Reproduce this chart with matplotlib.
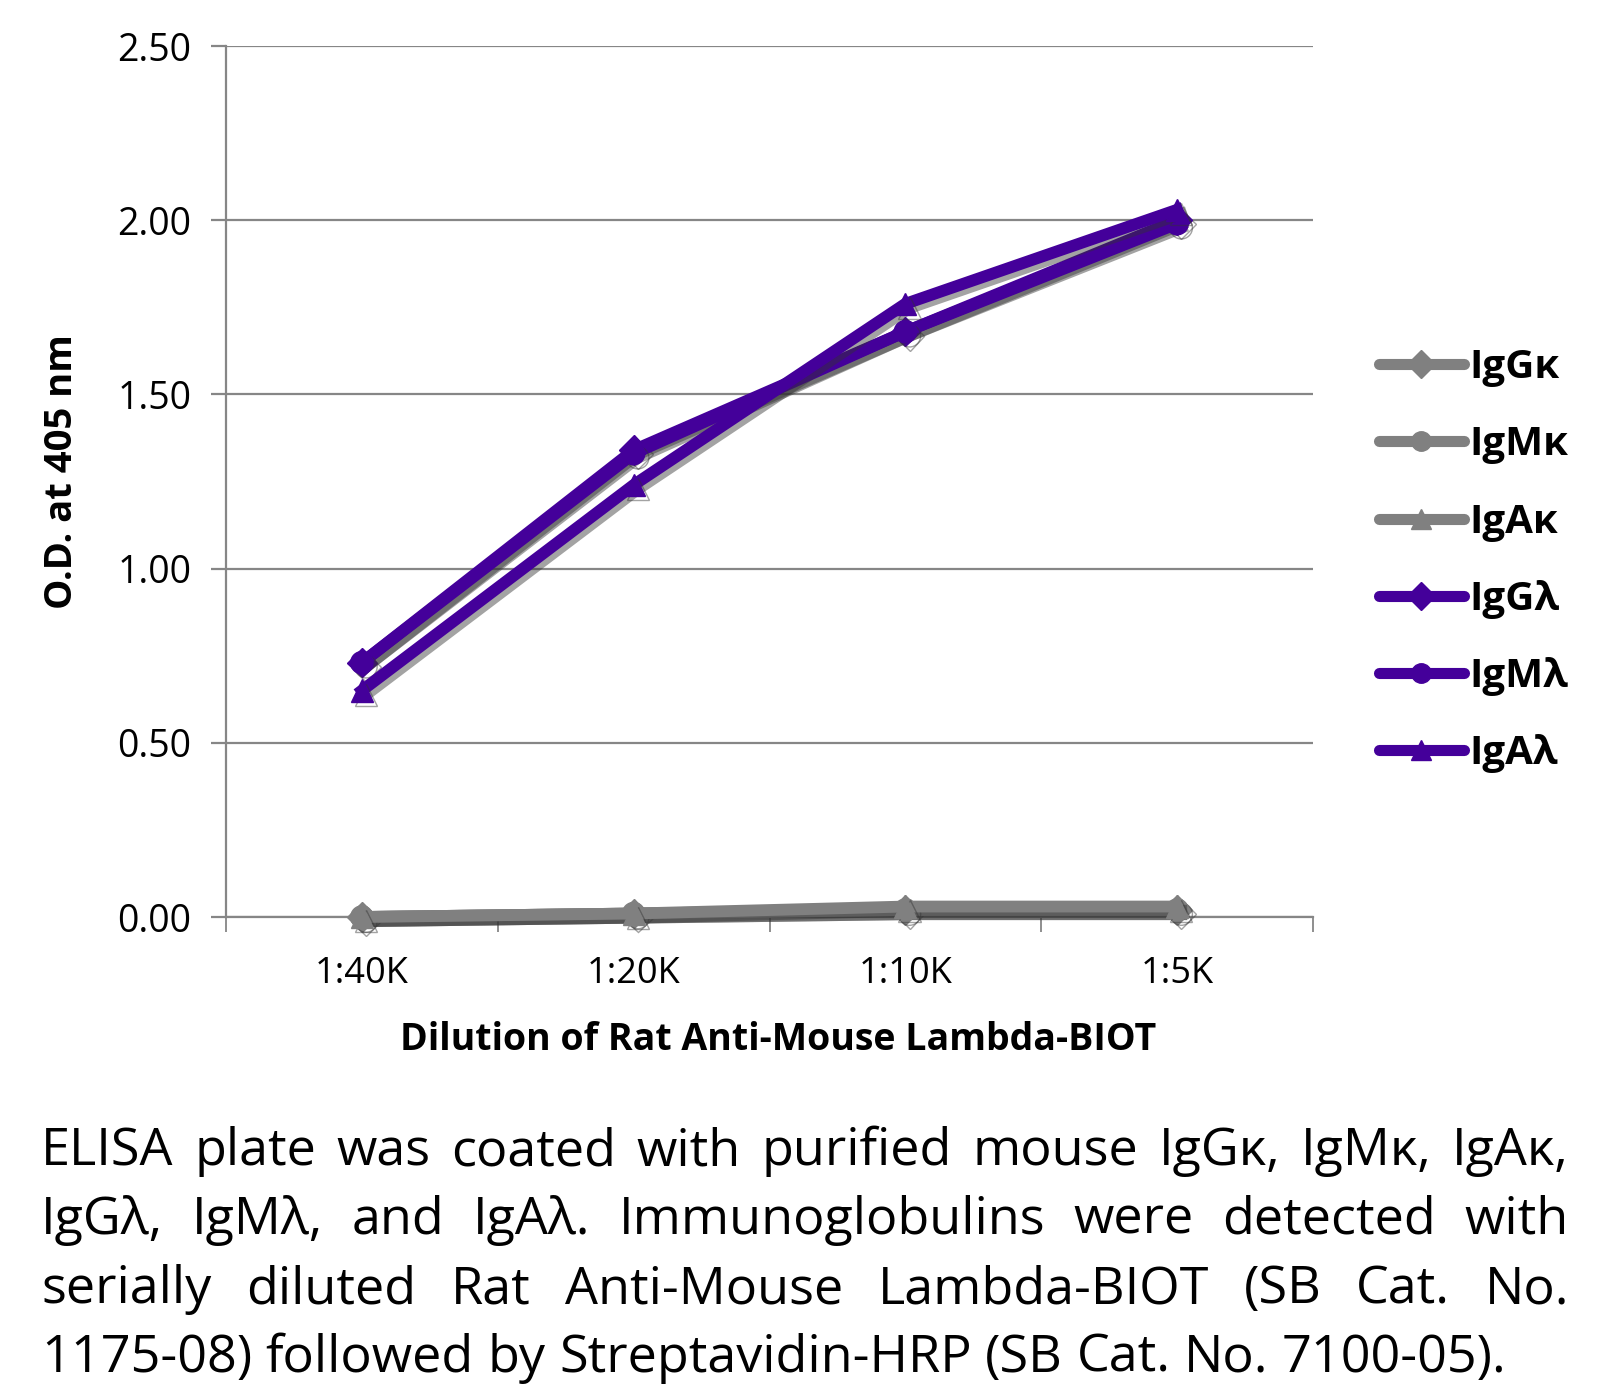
import matplotlib
matplotlib.use("Agg")
import matplotlib.pyplot as plt
import matplotlib.patheffects as pe
from matplotlib.lines import Line2D

# dilutions and O.D. readings
dilutions = ["1:40K", "1:20K", "1:10K", "1:5K"]
igg_k = [0.00, 0.01, 0.02, 0.02]
igm_k = [0.00, 0.01, 0.02, 0.02]
iga_k = [0.00, 0.01, 0.03, 0.03]
igg_l = [0.73, 1.34, 1.68, 2.00]
igm_l = [0.73, 1.33, 1.68, 1.99]
iga_l = [0.65, 1.24, 1.76, 2.03]

names = ["IgG\u03ba", "IgM\u03ba", "IgA\u03ba", "IgG\u03bb", "IgM\u03bb", "IgA\u03bb"]
series = [igg_k, igm_k, iga_k, igg_l, igm_l, iga_l]
markers = ["D", "o", "^", "D", "o", "^"]
gray = "#808080"
purple = "#44009a"
colors = [gray, gray, gray, purple, purple, purple]

yticks = [0.0, 0.5, 1.0, 1.5, 2.0, 2.5]

caption = [
    "ELISA plate was coated with purified mouse IgG\u03ba, IgM\u03ba, IgA\u03ba,",
    "IgG\u03bb, IgM\u03bb, and IgA\u03bb.  Immunoglobulins were detected with",
    "serially diluted Rat Anti-Mouse Lambda-BIOT (SB Cat. No.",
    "1175-08) followed by Streptavidin-HRP (SB Cat. No. 7100-05).",
]

plt.rcParams['font.family'] = ['Open Sans', 'DejaVu Sans']

fig = plt.figure(figsize=(16.05, 13.9), dpi=100)
ax = fig.add_axes([226/1605, 1-917/1390, (1313-226)/1605, (917-46)/1390])

x = list(range(len(dilutions)))
shadow = [pe.SimpleLineShadow(offset=(3, -3), shadow_color="#333333", alpha=0.45), pe.Normal()]
for vals, m, c, n in zip(series, markers, colors, names):
    ms = 15 if m == "D" else 16
    ax.plot(x, vals, color=c, marker=m, markersize=ms, lw=8.5, label=n,
            solid_joinstyle="round", path_effects=shadow, zorder=3, clip_on=False)

ax.set_ylim(0, 2.5)
ax.set_xlim(-0.5, 3.5)
ax.set_yticks(yticks)
ax.set_yticklabels([f"{v:.2f}" for v in yticks], fontsize=27)
ax.grid(axis="y", color="#868686", lw=1.6, zorder=1)
ax.tick_params(axis="y", length=11, width=1.6, color="#868686", pad=14)

ax.set_xticks([-0.5, 0.5, 1.5, 2.5, 3.5])
ax.set_xticklabels([])
ax.tick_params(axis="x", which="major", length=11, width=1.3, color="#868686")
ax.set_xticks(x, minor=True)
ax.set_xticklabels(dilutions, minor=True, fontsize=26)
ax.tick_params(axis="x", which="minor", length=0, pad=28)

for s in ["top", "right"]:
    ax.spines[s].set_visible(False)
for s in ["left", "bottom"]:
    ax.spines[s].set_color("#868686")
    ax.spines[s].set_linewidth(1.6)

fig.text(62/1605, 1-472/1390, "O.D. at 405 nm", rotation=90, fontsize=27.5,
         fontweight="bold", ha="center", va="center")
fig.text(778/1605, 1-1040/1390, "Dilution of Rat Anti-Mouse Lambda-BIOT", fontsize=27,
         fontweight="bold", ha="center", va="center")

handles = [Line2D([], [], color=c, marker=m, markersize=14, lw=8, solid_capstyle="round")
           for m, c in zip(markers, colors)]
fig.legend(handles, names, loc="upper left", bbox_to_anchor=(1363/1605, 1-332/1390),
           frameon=False, prop={"size": 29, "weight": "bold"}, handlelength=2.1,
           handletextpad=0.15, labelspacing=0.95, borderaxespad=0)

# caption, justified to the block width
fig.canvas.draw()
renderer = fig.canvas.get_renderer()
left, right = 41, 1569
base0, step = 1165, 69
fs = 37.5
for i, line in enumerate(caption):
    words = [w for w in line.split(" ") if w != ""]
    yb = 1 - (base0 + i * step) / 1390
    widths = []
    arts = []
    for w in words:
        t = fig.text(0, yb, w, fontsize=fs, va="baseline", ha="left")
        widths.append(t.get_window_extent(renderer).width)
        arts.append(t)
    t1 = fig.text(0, 0, "a a", fontsize=fs)
    t2 = fig.text(0, 0, "aa", fontsize=fs)
    space = t1.get_window_extent(renderer).width - t2.get_window_extent(renderer).width
    t1.remove()
    t2.remove()
    if i < len(caption) - 1:
        gap = (right - left - sum(widths)) / (len(words) - 1)
    else:
        gap = space
    xpos = left
    for t, wdt in zip(arts, widths):
        t.set_x(xpos / 1605)
        xpos += wdt + gap

fig.savefig("out.png", dpi=100)
